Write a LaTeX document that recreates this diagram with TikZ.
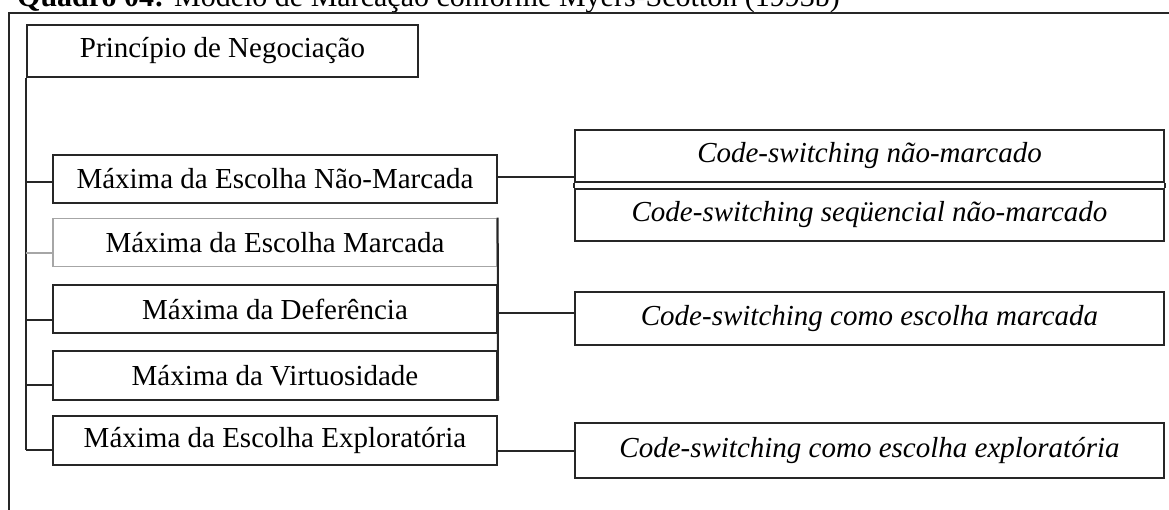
\documentclass[tikz,border=0pt]{standalone}
\usepackage{fontspec}
\setmainfont{Liberation Serif}
\begin{document}
\begin{tikzpicture}[x=1pt,y=-1pt,
  ln/.style={draw=black!85,line width=2pt},
  boxtext/.style={font=\fontsize{29}{34}\selectfont},
  lbox/.style={ln,rectangle,inner sep=0pt,minimum width=444pt,minimum height=48.5pt,boxtext},
  rbox/.style={ln,rectangle,inner sep=0pt,minimum width=589pt,minimum height=52pt,boxtext,font=\fontsize{29}{34}\selectfont\itshape}]
\useasboundingbox (0,0) rectangle (1169,510);
% caption (clipped at top)
\node[anchor=base west,inner sep=0pt,font=\fontsize{30}{36}\selectfont] (cap) at (17,7) {\textbf{Quadro 04:} Modelo de Marcação conforme Myers-Scotton (1993b)};
% frame
\coordinate (fbl) at (9,512);
\coordinate (ftl) at (9,13);
\coordinate (ftr) at (1171,13);
\draw[ln] (fbl) -- (ftl) -- (ftr);
% top box
\node[ln,rectangle,inner sep=0pt,minimum width=391pt,minimum height=52pt,boxtext,line width=2.4pt] (T) at (222.5,51) {Princípio de Negociação};
% left boxes
\node[lbox] (L1) at (275,179) {Máxima da Escolha Não-Marcada};
\node[lbox,draw=black!35,line width=1.4pt] (L2) at (275,242.5) {Máxima da Escolha Marcada};
\node[lbox] (L3) at (275,309) {Máxima da Deferência};
\node[lbox] (L4) at (275,375.5) {Máxima da Virtuosidade};
\node[lbox] (L5) at (275,440.5) {Máxima da Escolha Exploratória};
\draw[ln] (L2.north east) -- (L4.south east);
% right boxes
\node[rbox] (R1) at (869.5,156) {Code-switching não-marcado};
\node[rbox] (R2) at (869.5,215) {Code-switching seqüencial não-marcado};
\node[rbox,minimum height=53pt] (R3) at (869.5,318.5) {Code-switching como escolha marcada};
\node[rbox,minimum height=55pt] (R4) at (869.5,450.5) {Code-switching como escolha exploratória};
\draw[ln] (R1.south west) -- (R2.north west);
\draw[ln] (R1.south east) -- (R2.north east);
% trunk
\coordinate (tb) at ([yshift=-9.5pt]L5.west -| T.south west);
\draw[ln] (T.south west) -- (tb);
% branches
\draw[ln] ([yshift=-3pt]L1.west) -- ([yshift=-3pt]L1.west -| T.south west);
\draw[ln,draw=black!35,line width=1.4pt] ([yshift=-10.5pt]L2.west) -- ([yshift=-10.5pt]L2.west -| T.south west);
\draw[ln] ([yshift=-11pt]L3.west) -- ([yshift=-11pt]L3.west -| T.south west);
\draw[ln] ([yshift=-9.5pt]L4.west) -- ([yshift=-9.5pt]L4.west -| T.south west);
\draw[ln] ([yshift=-9.5pt]L5.west) -- (tb);
% connectors to right boxes
\draw[ln] ([yshift=2pt]L1.east) -- ([yshift=2pt]L1.east -| R1.west);
\draw[ln] ([yshift=-4pt]L3.east) -- ([yshift=-4pt]L3.east -| R3.west);
\draw[ln] (R4.west -| L5.east) -- (R4.west);
\end{tikzpicture}
\end{document}
